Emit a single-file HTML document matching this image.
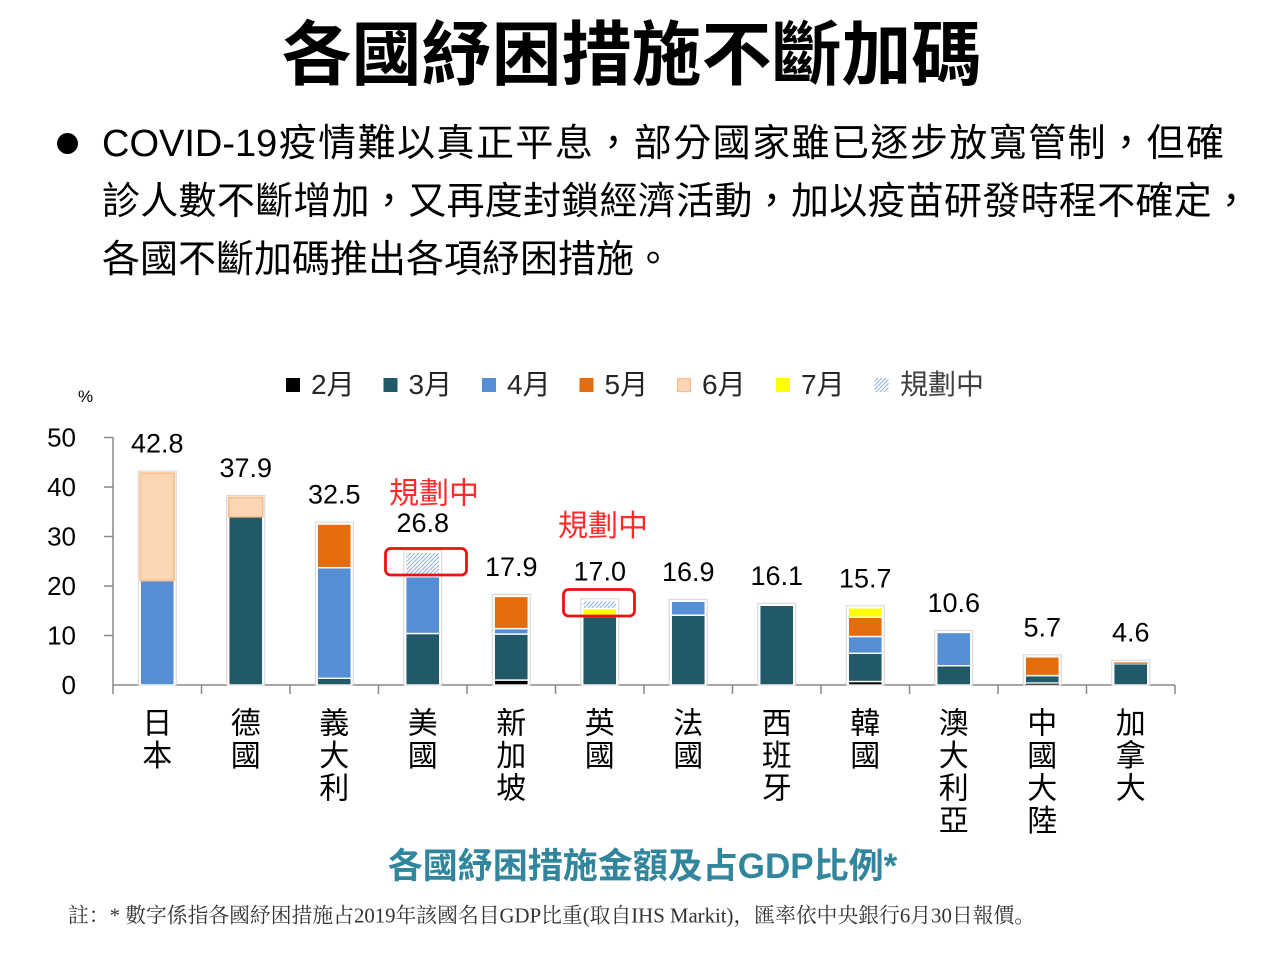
<!DOCTYPE html>
<html><head><meta charset="utf-8">
<style>
html,body{margin:0;padding:0;background:#fff;}
body{width:1267px;height:954px;position:relative;overflow:hidden;font-family:"Liberation Sans","Noto Sans CJK TC",sans-serif;}
.title{position:absolute;left:0;top:15px;width:1263px;text-align:center;font-size:70px;line-height:80px;font-weight:bold;color:#000;font-family:"Liberation Sans","Noto Sans CJK TC",sans-serif;}
.ln{position:absolute;left:102px;font-size:38px;line-height:58px;color:#000;white-space:nowrap;font-family:"Liberation Sans","Noto Sans CJK TC",sans-serif;}
.j{text-align:justify;text-align-last:justify;text-justify:inter-character;}
.dot{position:absolute;left:57px;top:133px;width:21px;height:21px;border-radius:50%;background:#000;}
svg{position:absolute;left:0;top:0;}
</style></head><body>
<div class="title">各國紓困措施不斷加碼</div>
<div class="dot"></div>
<div class="ln j" style="top:115px;width:1122px;">COVID-19疫情難以真正平息，部分國家雖已逐步放寬管制，但確</div>
<div class="ln j" style="top:173px;width:1148px;">診人數不斷增加，又再度封鎖經濟活動，加以疫苗研發時程不確定，</div>
<div class="ln" style="top:231px;">各國不斷加碼推出各項紓困措施。</div>

<svg width="1267" height="954" viewBox="0 0 1267 954" xmlns="http://www.w3.org/2000/svg">
<defs>
<pattern id="hatch" patternUnits="userSpaceOnUse" width="4" height="4">
<rect width="4" height="4" fill="#fff"/>
<path d="M-1,1 l2,-2 M0,4 l4,-4 M3,5 l2,-2" stroke="#8db3e2" stroke-width="1"/>
</pattern>
</defs>

<!-- legend -->
<g font-family="Liberation Sans, Noto Sans CJK TC, sans-serif" font-size="28" fill="#262626">
<rect x="286" y="378" width="14" height="14" fill="#000"/><text x="311" y="394">2月</text>
<rect x="383.5" y="378" width="14" height="14" fill="#215968"/><text x="408.5" y="394">3月</text>
<rect x="482" y="378" width="14" height="14" fill="#558ed5"/><text x="507" y="394">4月</text>
<rect x="579.5" y="378" width="14" height="14" fill="#e46c0a"/><text x="604.5" y="394">5月</text>
<rect x="677.5" y="378.5" width="13" height="13" fill="#fcd5b5" stroke="#f9be8f" stroke-width="1.2"/><text x="702" y="394">6月</text>
<rect x="776" y="378" width="14" height="14" fill="#ffff00"/><text x="801" y="394">7月</text>
<rect x="874.5" y="378" width="14" height="14" fill="url(#hatch)"/><text x="900" y="394" fill="#404040">規劃中</text>
</g>

<text x="78" y="402" font-size="17" font-family="Liberation Sans, sans-serif" fill="#000">%</text>

<!-- y axis labels -->
<g font-family="Liberation Sans, sans-serif" font-size="26" fill="#000" text-anchor="end">
<text x="76" y="446.5">50</text>
<text x="76" y="496">40</text>
<text x="76" y="545.5">30</text>
<text x="76" y="595">20</text>
<text x="76" y="644.5">10</text>
<text x="76" y="694">0</text>
</g>

<!-- axes -->
<g stroke="#898989" stroke-width="1.5" fill="none">
<line x1="113" y1="437" x2="113" y2="685"/>
<line x1="104" y1="437.5" x2="113" y2="437.5"/>
<line x1="104" y1="487" x2="113" y2="487"/>
<line x1="104" y1="536.5" x2="113" y2="536.5"/>
<line x1="104" y1="586" x2="113" y2="586"/>
<line x1="104" y1="635.5" x2="113" y2="635.5"/>
<line x1="113" y1="685" x2="1175" y2="685"/>
<line x1="113" y1="685" x2="113" y2="694"/>
<line x1="201.5" y1="685" x2="201.5" y2="694"/>
<line x1="290" y1="685" x2="290" y2="694"/>
<line x1="378.5" y1="685" x2="378.5" y2="694"/>
<line x1="467" y1="685" x2="467" y2="694"/>
<line x1="555.5" y1="685" x2="555.5" y2="694"/>
<line x1="644" y1="685" x2="644" y2="694"/>
<line x1="732.5" y1="685" x2="732.5" y2="694"/>
<line x1="821" y1="685" x2="821" y2="694"/>
<line x1="909.5" y1="685" x2="909.5" y2="694"/>
<line x1="998" y1="685" x2="998" y2="694"/>
<line x1="1086.5" y1="685" x2="1086.5" y2="694"/>
<line x1="1175" y1="685" x2="1175" y2="694"/>
</g>

<!-- bar backgrounds (shadow + white border) -->
<g fill="#fff" stroke="#d4d4d4" stroke-width="1">
<rect x="138.25" y="471.1" width="38" height="213.9"/>
<rect x="226.75" y="495.4" width="38" height="189.6"/>
<rect x="315.25" y="522.1" width="38" height="162.9"/>
<rect x="403.75" y="550.3" width="38" height="134.7"/>
<rect x="492.25" y="594.4" width="38" height="90.6"/>
<rect x="580.75" y="598.85" width="38" height="86.15"/>
<rect x="669.25" y="599.3" width="38" height="85.7"/>
<rect x="757.75" y="603.3" width="38" height="81.7"/>
<rect x="846.25" y="605.8" width="38" height="79.2"/>
<rect x="934.75" y="630.5" width="38" height="54.5"/>
<rect x="1023.25" y="654.8" width="38" height="30.2"/>
<rect x="1111.75" y="660.2" width="38" height="24.8"/>
</g>

<!-- bar segments -->
<g stroke="#fff" stroke-width="1.4">
<rect x="140.25" y="580.56" width="34" height="104.44" fill="#558ed5"/>
<rect x="140.25" y="473.14" width="34" height="107.42" fill="#fcd5b5" stroke="#f9c08f" stroke-width="1.8"/>
<rect x="228.75" y="516.7" width="34" height="168.3" fill="#215968"/>
<rect x="228.75" y="497.4" width="34" height="19.3" fill="#fcd5b5" stroke="#f9c08f" stroke-width="1.8"/>
<rect x="317.25" y="678.3" width="34" height="6.7" fill="#215968"/>
<rect x="317.25" y="567.7" width="34" height="110.6" fill="#558ed5"/>
<rect x="317.25" y="524.1" width="34" height="43.6" fill="#e46c0a"/>
<rect x="405.75" y="633.5" width="34" height="51.5" fill="#215968"/>
<rect x="405.75" y="576.6" width="34" height="56.9" fill="#558ed5"/>
<rect x="405.75" y="552.3" width="34" height="24.3" fill="url(#hatch)"/>
<rect x="494.25" y="680.05" width="34" height="4.95" fill="#000"/>
<rect x="494.25" y="634.0" width="34" height="46.05" fill="#215968"/>
<rect x="494.25" y="628.6" width="34" height="5.4" fill="#558ed5"/>
<rect x="494.25" y="596.4" width="34" height="32.2" fill="#e46c0a"/>
<rect x="582.75" y="616.7" width="34" height="68.3" fill="#215968"/>
<rect x="582.75" y="608.8" width="34" height="7.9" fill="#ffff00"/>
<rect x="582.75" y="600.85" width="34" height="7.95" fill="url(#hatch)"/>
<rect x="671.25" y="615.2" width="34" height="69.8" fill="#215968"/>
<rect x="671.25" y="601.3" width="34" height="13.9" fill="#558ed5"/>
<rect x="759.75" y="605.3" width="34" height="79.7" fill="#215968"/>
<rect x="848.25" y="681.5" width="34" height="3.5" fill="#000"/>
<rect x="848.25" y="653.3" width="34" height="28.2" fill="#215968"/>
<rect x="848.25" y="636.5" width="34" height="16.8" fill="#558ed5"/>
<rect x="848.25" y="617.2" width="34" height="19.3" fill="#e46c0a"/>
<rect x="848.25" y="607.8" width="34" height="9.4" fill="#ffff00"/>
<rect x="936.75" y="665.7" width="34" height="19.3" fill="#215968"/>
<rect x="936.75" y="632.5" width="34" height="33.2" fill="#558ed5"/>
<rect x="1025.25" y="683.0" width="34" height="2.0" fill="#000" stroke-width="0.6"/>
<rect x="1025.25" y="675.6" width="34" height="7.4" fill="#215968"/>
<rect x="1025.25" y="656.8" width="34" height="18.8" fill="#e46c0a"/>
<rect x="1113.75" y="663.7" width="34" height="21.3" fill="#215968"/>
<rect x="1113.75" y="662.2" width="34" height="1.8" fill="#e46c0a" stroke-width="0.4"/>
</g>

<!-- value labels -->
<g font-family="Liberation Sans, sans-serif" font-size="27" fill="#000" text-anchor="middle">
<text x="157.25" y="452.6">42.8</text>
<text x="245.75" y="476.9">37.9</text>
<text x="334.25" y="503.6">32.5</text>
<text x="422.75" y="531.8">26.8</text>
<text x="511.25" y="575.9">17.9</text>
<text x="599.75" y="580.3">17.0</text>
<text x="688.25" y="580.8">16.9</text>
<text x="776.75" y="584.8">16.1</text>
<text x="865.25" y="587.3">15.7</text>
<text x="953.75" y="612">10.6</text>
<text x="1042.25" y="636.3">5.7</text>
<text x="1130.75" y="641.7">4.6</text>
</g>

<!-- red annotations -->
<g font-family="Liberation Sans, Noto Sans CJK TC, sans-serif" font-size="30" fill="#ff2a2a" text-anchor="middle">
<text x="434" y="503.4">規劃中</text>
<text x="603" y="536">規劃中</text>
</g>
<rect x="385.5" y="548.5" width="81" height="26.5" rx="5" ry="5" fill="none" stroke="#ee1111" stroke-width="2.8"/>
<rect x="563.5" y="589.5" width="71" height="26.5" rx="5" ry="5" fill="none" stroke="#ee1111" stroke-width="2.8"/>

<!-- category labels -->
<g font-family="Noto Sans CJK TC, sans-serif" font-size="30" fill="#000" text-anchor="middle">
<text x="157.25" y="733.5">日</text><text x="157.25" y="766">本</text>
<text x="245.75" y="733.5">德</text><text x="245.75" y="766">國</text>
<text x="334.25" y="733.5">義</text><text x="334.25" y="766">大</text><text x="334.25" y="798.5">利</text>
<text x="422.75" y="733.5">美</text><text x="422.75" y="766">國</text>
<text x="511.25" y="733.5">新</text><text x="511.25" y="766">加</text><text x="511.25" y="798.5">坡</text>
<text x="599.75" y="733.5">英</text><text x="599.75" y="766">國</text>
<text x="688.25" y="733.5">法</text><text x="688.25" y="766">國</text>
<text x="776.75" y="733.5">西</text><text x="776.75" y="766">班</text><text x="776.75" y="798.5">牙</text>
<text x="865.25" y="733.5">韓</text><text x="865.25" y="766">國</text>
<text x="953.75" y="733.5">澳</text><text x="953.75" y="766">大</text><text x="953.75" y="798.5">利</text><text x="953.75" y="831">亞</text>
<text x="1042.25" y="733.5">中</text><text x="1042.25" y="766">國</text><text x="1042.25" y="798.5">大</text><text x="1042.25" y="831">陸</text>
<text x="1130.75" y="733.5">加</text><text x="1130.75" y="766">拿</text><text x="1130.75" y="798.5">大</text>
</g>

<!-- subtitle -->
<text x="642.5" y="878" text-anchor="middle" font-family="Liberation Sans, Noto Sans CJK TC, sans-serif" font-size="35" font-weight="bold" fill="#31859c">各國紓困措施金額及占GDP比例*</text>

<!-- footnote -->
<text x="68" y="922.5" font-family="Liberation Serif, Noto Serif CJK SC, serif" font-size="20.8" fill="#333">註：* 數字係指各國紓困措施占2019年該國名目GDP比重(取自IHS Markit)，匯率依中央銀行6月30日報價。</text>
</svg>
</body></html>
